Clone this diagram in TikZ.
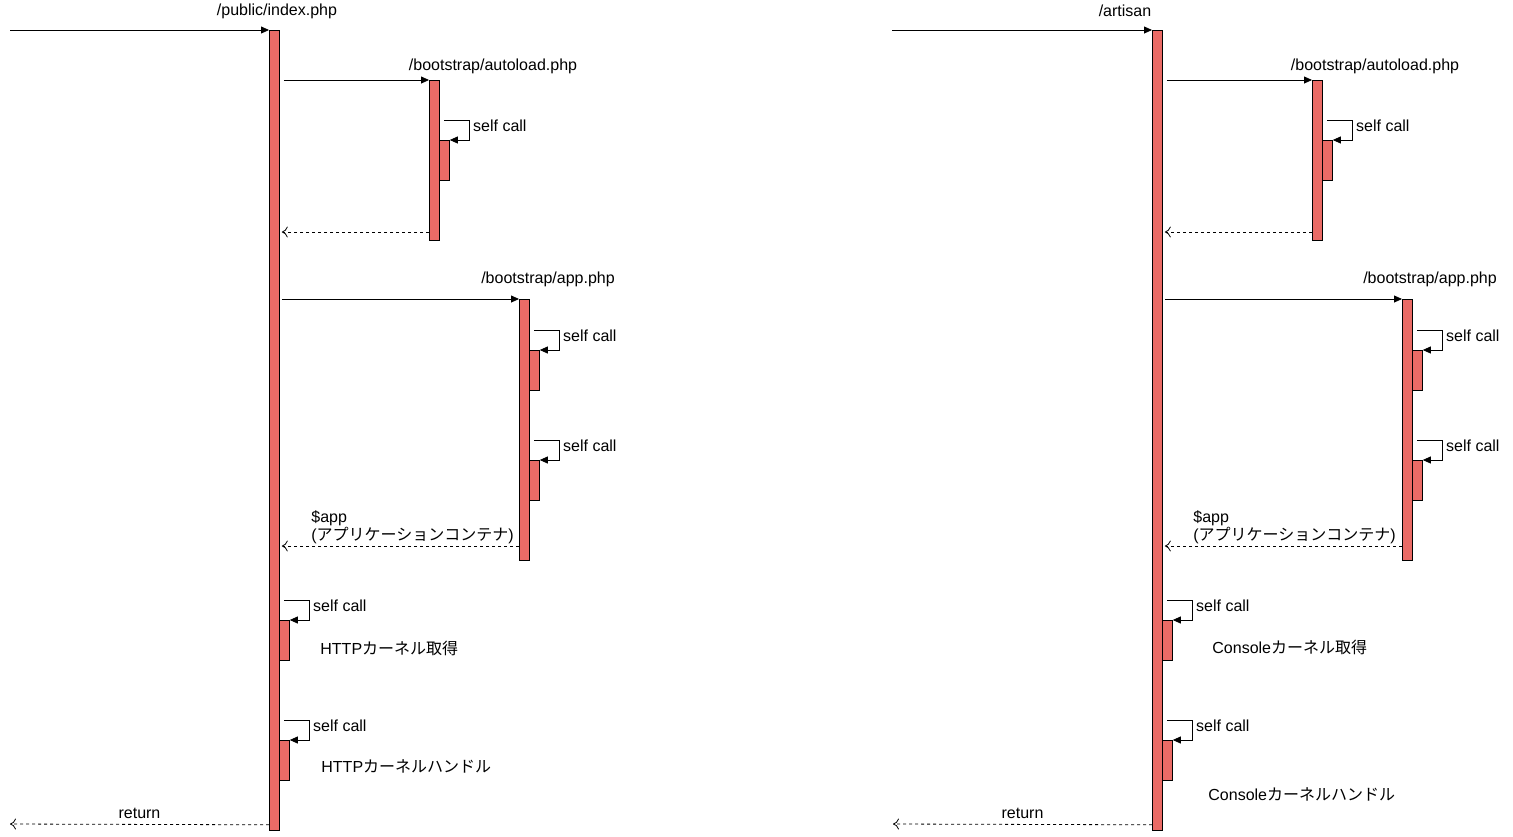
\documentclass[tikz,border=0pt]{standalone}
\usepackage{fontspec}
\setmainfont{Liberation Sans}
\newfontfamily\jp{Noto Sans CJK JP}
\usetikzlibrary{arrows.meta}
\definecolor{barred}{HTML}{EA6B66}

\begin{document}
\begin{tikzpicture}[ x=1pt, y=-1pt, line width=0.8pt,
	font=\fontsize{16pt}{18pt}\selectfont,
	bar/.style={ draw, fill=barred, anchor=north west, inner sep=0pt,
		minimum width=10pt },
	call/.style={ -{Triangle[length=8pt,width=7pt]} },
	ret/.style={ dashed, -{To[length=6pt,width=11pt]} } ]
	\useasboundingbox (0,0) rectangle (1513,836);

	% left: /public/index.php
	\node [ bar, minimum height=800pt ] (1) at (269,30) {};
	\node [ bar, minimum height=160pt ] (2) at (429,80) {};
	\node [ bar, minimum height=40pt ] (3) at (439,140) {};
	\node [ bar, minimum height=261pt ] (4) at (519,299) {};
	\node [ bar, minimum height=40pt ] (5) at (529,350) {};
	\node [ bar, minimum height=40pt ] (6) at (529,460) {};
	\node [ bar, minimum height=40pt ] (7) at (279,620) {};
	\node [ bar, minimum height=40pt ] (8) at (279,740) {};

	\node (1t) at (277,11) { /public/index.php };
	\node (2t) at (493,66) { /bootstrap/autoload.php };
	\node (4t) at (548,279) { /bootstrap/app.php };
	\node [ align=left, anchor=south west, inner sep=0pt ] (4r) at (311,544)
		{ \$app \\ ({\jp アプリケーションコンテナ}) };
	\node [ anchor=west, inner sep=0pt ] (7t) at (320,648)
		{ HTTP{\jp カーネル取得} };
	\node [ anchor=west, inner sep=0pt ] (8t) at (321,766)
		{ HTTP{\jp カーネルハンドル} };

	\coordinate (1a) at (10,30);
	\coordinate (1b) at (10,824);
	\coordinate (2r) at (429,232);
	\coordinate (4b) at (519,546);

	\draw [ call ] (1a) to (1.north west);
	\draw [ call ] ([xshift=4pt]1.east |- 2.north west) to (2.north west);
	\draw [ ret ] (2r) to ([xshift=2pt]1.east |- 2r);
	\draw [ call ] ([xshift=2pt]1.east |- 4.north west) to (4.north west);
	\draw [ ret ] (4b) to ([xshift=2pt]1.east |- 4b);
	\draw [ ret ] ([yshift=6pt]1.south west) to
		node [above, inner sep=5pt] {return}
		(1b);
	\foreach \s in {3,5,6,7,8} {
		\draw [ call ] ([shift={(5,-20)}]\s.north west)
			-| ([xshift=20pt]\s.north east)
			node [right, pos=0.65, inner sep=3pt] {self call}
			-- (\s.north east);
	}

	% right: /artisan
	\node [ bar, minimum height=800pt ] (11) at (1152,30) {};
	\node [ bar, minimum height=160pt ] (12) at (1312,80) {};
	\node [ bar, minimum height=40pt ] (13) at (1322,140) {};
	\node [ bar, minimum height=261pt ] (14) at (1402,299) {};
	\node [ bar, minimum height=40pt ] (15) at (1412,350) {};
	\node [ bar, minimum height=40pt ] (16) at (1412,460) {};
	\node [ bar, minimum height=40pt ] (17) at (1162,620) {};
	\node [ bar, minimum height=40pt ] (18) at (1162,740) {};

	\node (11t) at (1125,11) { /artisan };
	\node (12t) at (1375,66) { /bootstrap/autoload.php };
	\node (14t) at (1430,279) { /bootstrap/app.php };
	\node [ align=left, anchor=south west, inner sep=0pt ] (14r) at (1193,544)
		{ \$app \\ ({\jp アプリケーションコンテナ}) };
	\node [ anchor=west, inner sep=0pt ] (17t) at (1212,647)
		{ Console{\jp カーネル取得} };
	\node [ anchor=west, inner sep=0pt ] (18t) at (1208,794)
		{ Console{\jp カーネルハンドル} };

	\coordinate (11a) at (892,30);
	\coordinate (11b) at (893,824);
	\coordinate (12r) at (1312,232);
	\coordinate (14b) at (1402,546);

	\draw [ call ] (11a) to (11.north west);
	\draw [ call ] ([xshift=4pt]11.east |- 12.north west) to (12.north west);
	\draw [ ret ] (12r) to ([xshift=2pt]11.east |- 12r);
	\draw [ call ] ([xshift=2pt]11.east |- 14.north west) to (14.north west);
	\draw [ ret ] (14b) to ([xshift=2pt]11.east |- 14b);
	\draw [ ret ] ([yshift=6pt]11.south west) to
		node [above, inner sep=5pt] {return}
		(11b);
	\foreach \s in {13,15,16,17,18} {
		\draw [ call ] ([shift={(5,-20)}]\s.north west)
			-| ([xshift=20pt]\s.north east)
			node [right, pos=0.65, inner sep=3pt] {self call}
			-- (\s.north east);
	}
\end{tikzpicture}
\end{document}
